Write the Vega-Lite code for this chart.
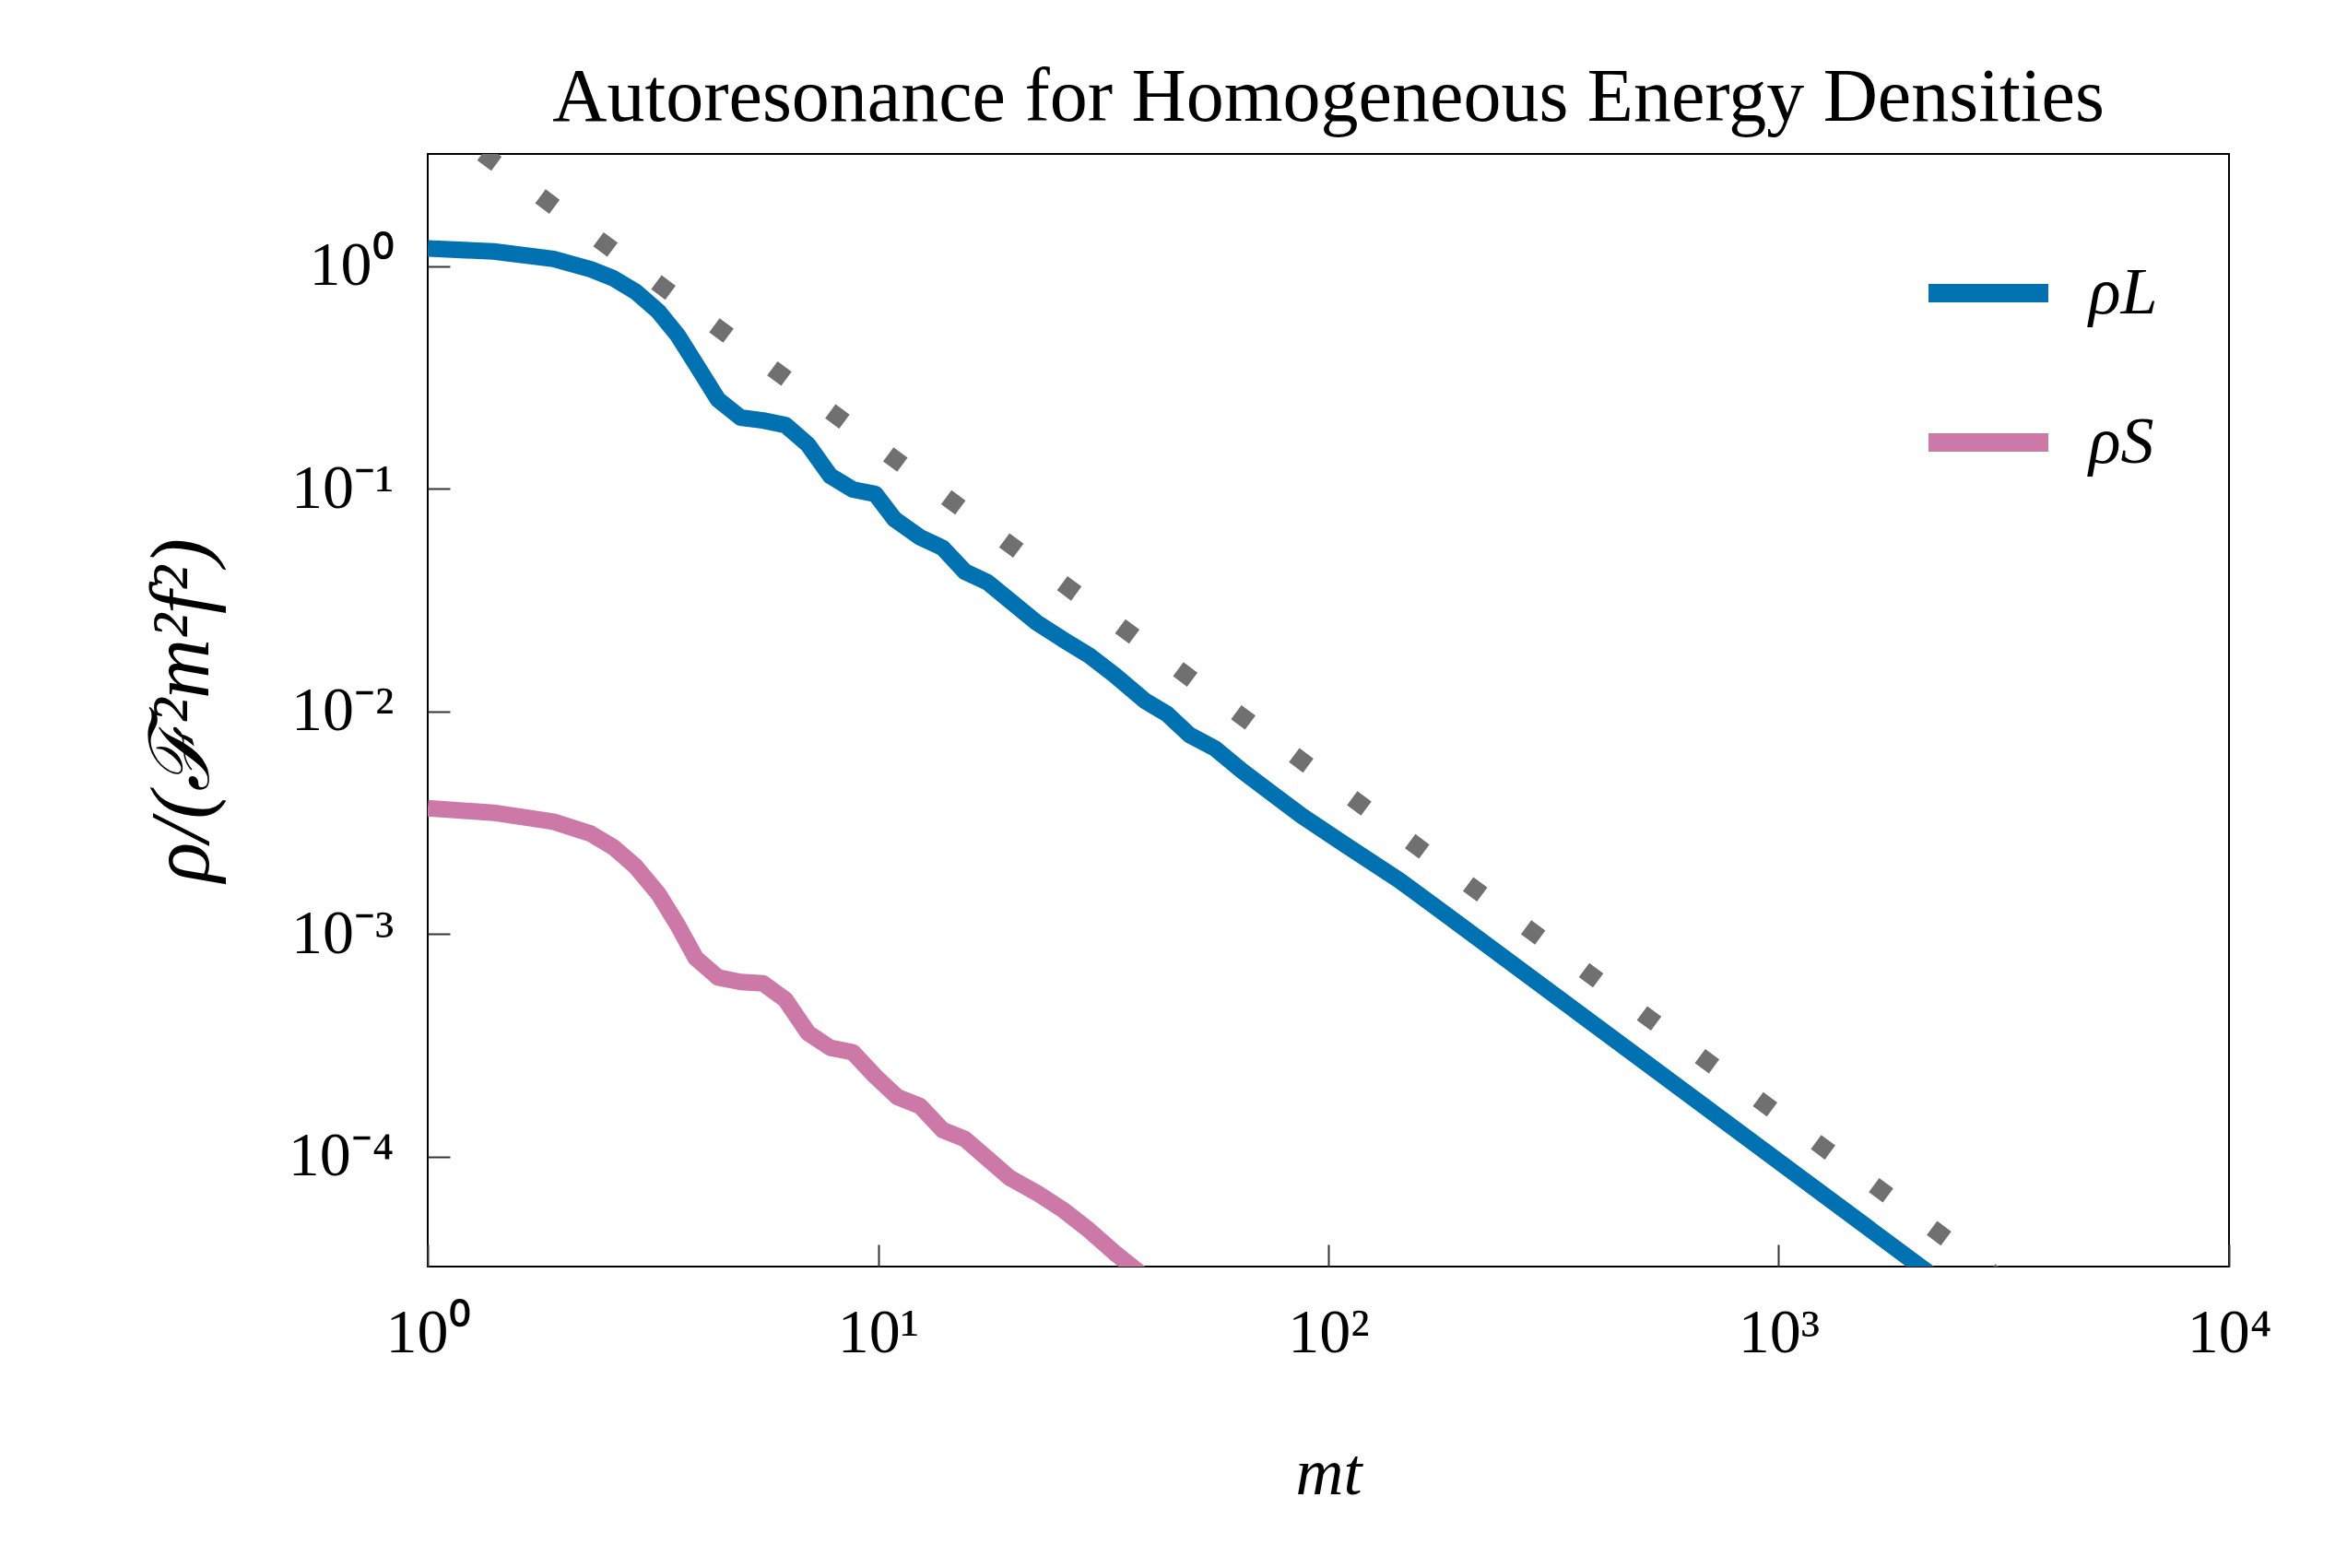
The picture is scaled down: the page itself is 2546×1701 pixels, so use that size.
{
  "$schema": "https://vega.github.io/schema/vega-lite/v6.json",
  "autosize": {"type": "none"},
  "width": 1954,
  "height": 1207,
  "padding": {"left": 464, "top": 167, "right": 128, "bottom": 327},
  "background": "white",
  "title": {
    "text": "Autoresonance for Homogeneous Energy Densities",
    "font": "Liberation Serif",
    "fontSize": 82,
    "fontWeight": "normal",
    "color": "black",
    "anchor": "middle",
    "baseline": "alphabetic",
    "offset": 32,
    "dy": 78
  },
  "config": {
    "view": {"stroke": "black", "strokeWidth": 2},
    "axis": {
      "domain": false,
      "grid": false,
      "tickSize": -24,
      "tickWidth": 2,
      "tickColor": "#333333",
      "labelFont": "Liberation Serif",
      "labelFontSize": 68,
      "labelColor": "black",
      "labelOverlap": false,
      "labelBound": false,
      "labelFlush": false,
      "titleFont": "Liberation Serif",
      "titleFontSize": 72,
      "titleFontStyle": "italic",
      "titleFontWeight": "normal",
      "titleColor": "black"
    }
  },
  "datasets": {
    "curves": [
      {"series": "ρL", "t": 1, "rho": 1.204},
      {"series": "ρL", "t": 1.40, "rho": 1.167},
      {"series": "ρL", "t": 1.902, "rho": 1.080},
      {"series": "ρL", "t": 2.302, "rho": 0.970},
      {"series": "ρL", "t": 2.583, "rho": 0.884},
      {"series": "ρL", "t": 2.897, "rho": 0.769},
      {"series": "ρL", "t": 3.250, "rho": 0.628},
      {"series": "ρL", "t": 3.589, "rho": 0.4905},
      {"series": "ρL", "t": 3.934, "rho": 0.3655},
      {"series": "ρL", "t": 4.413, "rho": 0.252},
      {"series": "ρL", "t": 4.951, "rho": 0.2093},
      {"series": "ρL", "t": 5.553, "rho": 0.203},
      {"series": "ρL", "t": 6.229, "rho": 0.1937},
      {"series": "ρL", "t": 6.986, "rho": 0.1584},
      {"series": "ρL", "t": 7.834, "rho": 0.1144},
      {"series": "ρL", "t": 8.786, "rho": 0.0995},
      {"series": "ρL", "t": 9.856, "rho": 0.0950},
      {"series": "ρL", "t": 10.89, "rho": 0.0730},
      {"series": "ρL", "t": 12.40, "rho": 0.0607},
      {"series": "ρL", "t": 13.91, "rho": 0.0544},
      {"series": "ρL", "t": 15.60, "rho": 0.04247},
      {"series": "ρL", "t": 17.50, "rho": 0.03811},
      {"series": "ρL", "t": 19.93, "rho": 0.03069},
      {"series": "ρL", "t": 22.52, "rho": 0.02509},
      {"series": "ρL", "t": 25.66, "rho": 0.02116},
      {"series": "ρL", "t": 29.44, "rho": 0.01784},
      {"series": "ρL", "t": 33.53, "rho": 0.01459},
      {"series": "ρL", "t": 39.08, "rho": 0.01121},
      {"series": "ρL", "t": 43.83, "rho": 0.00976},
      {"series": "ρL", "t": 49.15, "rho": 0.00785},
      {"series": "ρL", "t": 55.99, "rho": 0.00683},
      {"series": "ρL", "t": 64.27, "rho": 0.00542},
      {"series": "ρL", "t": 74.88, "rho": 0.00429},
      {"series": "ρL", "t": 87.29, "rho": 0.00340},
      {"series": "ρL", "t": 109.8, "rho": 0.002496},
      {"series": "ρL", "t": 143.5, "rho": 0.001749},
      {"series": "ρL", "t": 180.5, "rho": 0.001244},
      {"series": "ρL", "t": 507, "rho": 0.000264},
      {"series": "ρL", "t": 2058, "rho": 0.0000322},
      {"series": "ρL", "t": 3000, "rho": 0.0000183},
      {"series": "ρS", "t": 1, "rho": 0.003678},
      {"series": "ρS", "t": 1.40, "rho": 0.003511},
      {"series": "ρS", "t": 1.902, "rho": 0.003199},
      {"series": "ρS", "t": 2.302, "rho": 0.002826},
      {"series": "ρS", "t": 2.583, "rho": 0.002459},
      {"series": "ρS", "t": 2.897, "rho": 0.002010},
      {"series": "ρS", "t": 3.250, "rho": 0.001521},
      {"series": "ρS", "t": 3.589, "rho": 0.001099},
      {"series": "ρS", "t": 3.934, "rho": 0.000782},
      {"series": "ρS", "t": 4.413, "rho": 0.000639},
      {"series": "ρS", "t": 4.951, "rho": 0.000610},
      {"series": "ρS", "t": 5.553, "rho": 0.000601},
      {"series": "ρS", "t": 6.229, "rho": 0.000507},
      {"series": "ρS", "t": 6.986, "rho": 0.0003603},
      {"series": "ρS", "t": 7.834, "rho": 0.0003087},
      {"series": "ρS", "t": 8.786, "rho": 0.0002947},
      {"series": "ρS", "t": 9.856, "rho": 0.0002300},
      {"series": "ρS", "t": 11.05, "rho": 0.0001852},
      {"series": "ρS", "t": 12.40, "rho": 0.0001688},
      {"series": "ρS", "t": 13.91, "rho": 0.0001317},
      {"series": "ρS", "t": 15.60, "rho": 0.0001200},
      {"series": "ρS", "t": 17.50, "rho": 0.0000981},
      {"series": "ρS", "t": 19.63, "rho": 0.0000802},
      {"series": "ρS", "t": 22.52, "rho": 0.0000688},
      {"series": "ρS", "t": 25.66, "rho": 0.0000580},
      {"series": "ρS", "t": 29.44, "rho": 0.0000467},
      {"series": "ρS", "t": 33.53, "rho": 0.0000370},
      {"series": "ρS", "t": 39.08, "rho": 0.0000289},
      {"series": "ρS", "t": 45.53, "rho": 0.0000236}
    ],
    "fit": [
      {"t": 1, "rho": 4.9},
      {"t": 10000, "rho": 0.0000049}
    ]
  },
  "encoding": {
    "x": {
      "field": "t",
      "type": "quantitative",
      "scale": {"type": "log", "domain": [1, 10000], "nice": false},
      "axis": {
        "values": [1, 10, 100, 1000, 10000],
        "labelPadding": 62,
        "labelExpr": "datum.value < 5 ? '10⁰' : datum.value < 50 ? '10¹' : datum.value < 500 ? '10²' : datum.value < 5000 ? '10³' : '10⁴'",
        "title": "mt",
        "titleBaseline": "alphabetic",
        "titleY": 246
      }
    },
    "y": {
      "field": "rho",
      "type": "quantitative",
      "scale": {"type": "log", "domain": [0.0000321, 3.2], "nice": false},
      "axis": {
        "values": [0.0001, 0.001, 0.01, 0.1, 1],
        "labelPadding": 61,
        "labelExpr": "datum.value > 0.5 ? '10⁰' : datum.value > 0.05 ? '10⁻¹' : datum.value > 0.005 ? '10⁻²' : datum.value > 0.0005 ? '10⁻³' : '10⁻⁴'",
        "title": "ρ/(ℱ²m²f²)",
        "titleFontSize": 90,
        "titleBaseline": "middle",
        "titleX": -266,
        "titleY": 603
      }
    }
  },
  "layer": [
    {
      "data": {"name": "fit"},
      "mark": {
        "type": "line",
        "clip": true,
        "color": "#707070",
        "strokeWidth": 19,
        "strokeCap": "butt",
        "strokeDash": [19, 59.3],
        "strokeDashOffset": 4.4
      }
    },
    {
      "data": {"name": "curves"},
      "mark": {
        "type": "line",
        "clip": true,
        "strokeWidth": 18,
        "strokeCap": "butt",
        "strokeJoin": "round"
      },
      "encoding": {
        "color": {
          "field": "series",
          "type": "nominal",
          "scale": {"domain": ["ρL", "ρS"], "range": ["#0072b2", "#cc79a7"]},
          "legend": {
            "title": null,
            "orient": "none",
            "legendX": 1618,
            "legendY": 76,
            "padding": 0,
            "symbolType": "stroke",
            "symbolSize": 16900,
            "symbolStrokeWidth": 20,
            "labelFont": "Liberation Serif",
            "labelFontStyle": "italic",
            "labelFontSize": 72,
            "labelColor": "black",
            "labelOffset": 34,
            "rowPadding": 47
          }
        }
      }
    }
  ]
}
